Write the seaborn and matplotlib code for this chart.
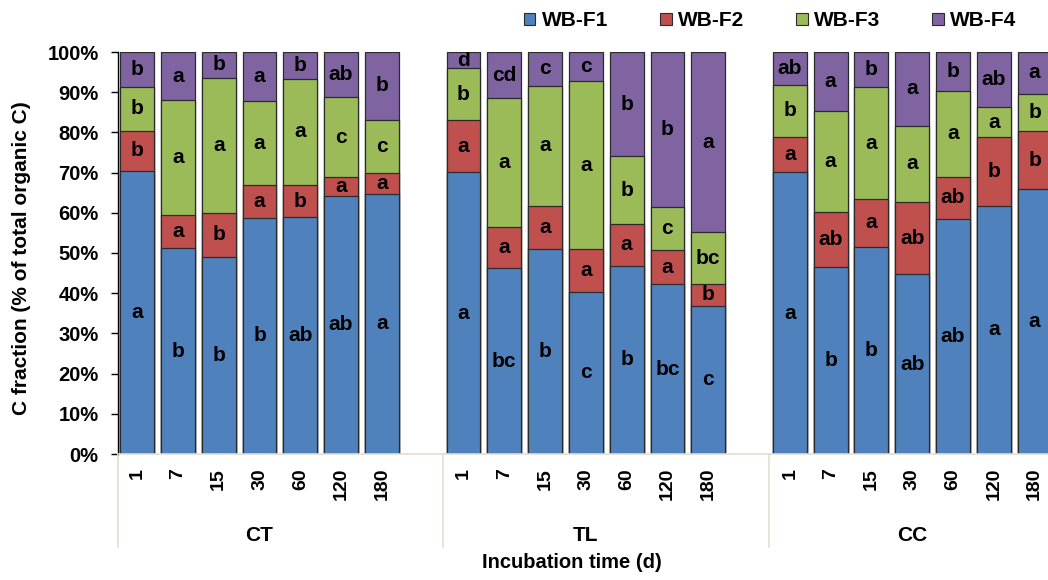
import matplotlib
matplotlib.use("Agg")
import matplotlib.pyplot as plt
from matplotlib.patches import Patch
import seaborn as sns
import numpy as np
import pandas as pd

# incubation days and soil treatments
days = ["1", "7", "15", "30", "60", "120", "180"]
groups = ["CT", "TL", "CC"]
fractions = ["WB-F1", "WB-F2", "WB-F3", "WB-F4"]
colors = ["#4F81BD", "#C0504D", "#9BBB59", "#8064A2"]

# % of total organic C, per group (CT, TL, CC) x day
f1 = [70.5, 51.2, 49.1, 58.8, 59.0, 64.3, 64.7,
      70.1, 46.2, 50.9, 40.4, 46.8, 42.2, 36.9,
      70.1, 46.4, 51.6, 44.7, 58.4, 61.7, 65.9]
f2 = [9.8, 8.3, 10.9, 8.0, 7.8, 4.7, 5.3,
      13.0, 10.2, 10.9, 10.5, 10.4, 8.5, 5.5,
      8.8, 13.9, 11.9, 17.9, 10.6, 17.2, 14.4]
f3 = [11.1, 28.5, 33.6, 20.9, 26.6, 19.7, 13.1,
      12.8, 32.1, 29.8, 41.9, 16.9, 10.7, 12.7,
      12.9, 24.9, 27.7, 19.1, 21.3, 7.3, 9.3]
f4 = [8.6, 12.0, 6.4, 12.3, 6.6, 11.3, 16.9,
      4.1, 11.5, 8.4, 7.2, 25.9, 38.6, 44.9,
      8.2, 14.8, 8.8, 18.3, 9.7, 13.8, 10.4]

# significance letters
let1 = ["a", "b", "b", "b", "ab", "ab", "a",
        "a", "bc", "b", "c", "b", "bc", "c",
        "a", "b", "b", "ab", "ab", "a", "a"]
let2 = ["b", "a", "b", "a", "b", "a", "a",
        "a", "a", "a", "a", "a", "a", "b",
        "a", "ab", "a", "ab", "ab", "b", "b"]
let3 = ["b", "a", "a", "a", "a", "c", "c",
        "b", "a", "a", "a", "b", "c", "bc",
        "b", "a", "a", "a", "a", "a", "b"]
let4 = ["b", "a", "b", "a", "b", "ab", "b",
        "d", "cd", "c", "c", "b", "b", "a",
        "ab", "a", "b", "a", "b", "ab", "a"]

sns.set_style("white")
plt.rcParams['font.family'] = ['Liberation Sans', 'DejaVu Sans']
plt.rcParams['font.weight'] = 'bold'
for key in ['text.color', 'axes.labelcolor', 'xtick.color', 'ytick.color']:
    plt.rcParams[key] = 'black'

# x positions: one empty slot between groups
pos = np.array([g * 8 + i for g in range(3) for i in range(7)], dtype=float)
vals = np.array([f1, f2, f3, f4])
cum = np.cumsum(vals, axis=0)
bottoms = cum - vals

fig = plt.figure(figsize=(10.48, 5.8), dpi=100)
ax = fig.add_axes([118 / 1048, 1 - 454 / 580, 930 / 1048, 402 / 580])

# draw cumulative layers top-down so lower fractions cover the upper ones
for k in range(3, -1, -1):
    df = pd.DataFrame({"x": pos, "y": cum[k]})
    sns.barplot(data=df, x="x", y="y", native_scale=True, color=colors[k],
                saturation=1, width=0.83, errorbar=None, edgecolor="#2b2b2b",
                linewidth=0.9, ax=ax)

letters = [let1, let2, let3, let4]
for k in range(4):
    for i, x in enumerate(pos):
        ax.text(x, bottoms[k][i] + vals[k][i] / 2, letters[k][i],
                ha="center", va="center", fontsize=15, fontweight="bold",
                color="black", clip_on=True)

ax.set_xlim(-0.47, 22.33)
ax.set_ylim(0, 100)
ax.set_xticks(pos)
ax.set_xticklabels(days * 3, rotation=90, fontsize=14, fontweight="bold")
ax.tick_params(axis="x", length=0, pad=10)
ax.set_yticks(np.arange(0, 101, 10))
ax.set_yticklabels([f"{v}%" for v in range(0, 101, 10)], fontsize=14.5,
                   fontweight="bold")
ax.tick_params(axis="y", direction="out", length=5, width=1, color="black",
               pad=9, left=True)
ax.set_xlabel("")
ax.set_ylabel("")
for s in ["top", "right"]:
    ax.spines[s].set_visible(False)
ax.spines["left"].set_color("black")
ax.spines["left"].set_linewidth(1)
ax.spines["bottom"].set_color("#E3DED1")
ax.spines["bottom"].set_linewidth(1.2)

# group labels and separators under the axis
tr = ax.get_xaxis_transform()
for g, name in enumerate(groups):
    ax.text(g * 8 + 3, -0.2015, name, transform=tr, ha="center", va="center",
            fontsize=15, fontweight="bold")
for xs in [-0.47, 7.5, 15.5]:
    ax.plot([xs, xs], [0, -0.231], transform=tr, color="#E3DED1", lw=1.2,
            clip_on=False)

fig.text(572 / 1048, 1 - 563 / 580, "Incubation time (d)", ha="center",
         va="center", fontsize=14.5, fontweight="bold")
fig.text(22 / 1048, 1 - 258 / 580, "C fraction (% of total organic C)",
         rotation=90, ha="center", va="center", fontsize=15, fontweight="bold")

handles = [Patch(facecolor=c, edgecolor="#2b2b2b", linewidth=0.8) for c in colors]
fig.legend(handles, fractions, ncol=4, loc="center",
           bbox_to_anchor=(770 / 1048, 1 - 21 / 580), frameon=False,
           prop={"size": 15, "weight": "bold"}, handlelength=0.55,
           handleheight=0.55, handletextpad=0.3, columnspacing=2.5)

fig.savefig("out.png", dpi=100)
